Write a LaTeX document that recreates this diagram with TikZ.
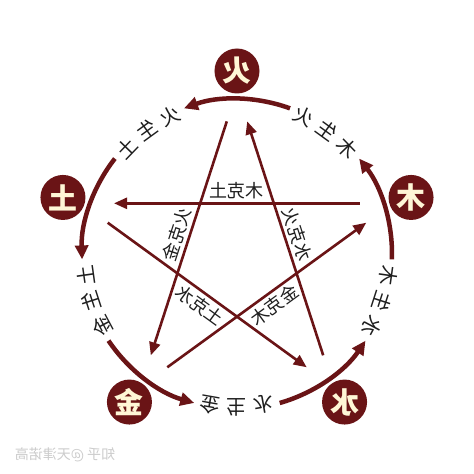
\documentclass[tikz,border=0pt]{standalone}
\usepackage{fontspec}
\newfontfamily\cjk{Noto Sans CJK SC}
\usetikzlibrary{arrows.meta}

\definecolor{wxred}{RGB}{106,20,22}
\definecolor{wxcream}{RGB}{255,246,214}
\definecolor{wxink}{RGB}{30,30,30}

\tikzset{
  element/.style={circle, fill=wxred, text=wxcream, minimum size=45pt, inner sep=0pt,
    font=\cjk\bfseries\fontsize{29}{29}\selectfont},
  shengarc/.style={wxred, line width=4.5pt, -{Triangle[length=14pt,width=13pt]}},
  kearrow/.style={wxred, line width=2.6pt, -{Triangle[length=13pt,width=11pt]},
    shorten <=33pt, shorten >=33pt},
  shenglabel/.style={text=wxink, inner sep=0pt, font=\cjk\fontsize{20}{20}\selectfont},
  kelabel/.style={text=wxink, inner sep=3pt, font=\cjk\fontsize{18}{18}\selectfont},
}

\begin{document}
\begin{tikzpicture}[x=1pt, y=1pt, xscale=-1, transform shape]
  \useasboundingbox[fill=white] (-237,-220) rectangle (237,254);
  \coordinate (hub) at (0,0);

  % the five elements
  \foreach \name/\ang/\glyph in {fire/90/火, earth/18/土, metal/-54/金, water/-126/水, wood/162/木}{
    \node[element] (\name) at (\ang:183) {\glyph};
    \coordinate (\name-tip) at (\ang:164);
  }

  % generating cycle
  \foreach \ang in {90,18,-54,-126,162}
    \draw[shengarc] (\ang+20:155) arc[start angle=\ang+20, end angle=\ang-20, radius=155];

  \foreach \ang/\ca/\cb/\cc [count=\i] in {54/火/生/土, -18/土/生/金, -90/金/生/水, -162/水/生/木, 126/木/生/火}{
    \node[shenglabel, rotate=\ang-80]  (sheng\i a) at (\ang+10:153) {\ca};
    \node[shenglabel, rotate=\ang-90]  (sheng\i b) at (\ang:153) {\cb};
    \node[shenglabel, rotate=\ang-100] (sheng\i c) at (\ang-10:153) {\cc};
  }

  % controlling star
  \draw[kearrow] (wood-tip) -- node[kelabel, above] (ke1) {木克土} (earth-tip);
  \draw[kearrow] (fire-tip) -- node[kelabel, above, rotate=-72] (ke2) {火克金} (metal-tip);
  \draw[kearrow] (water-tip) -- node[kelabel, above, rotate=72] (ke3) {水克火} (fire-tip);
  \draw[kearrow] (earth-tip) -- node[kelabel, below, rotate=36] (ke4) {土克水} (water-tip);
  \draw[kearrow] (metal-tip) -- node[kelabel, below, rotate=-36] (ke5) {金克木} (wood-tip);

  \node[font=\cjk\fontsize{14}{14}\selectfont, text=black!20] (mark) at (172,-201) {知乎 @天津诺高};
\end{tikzpicture}
\end{document}
